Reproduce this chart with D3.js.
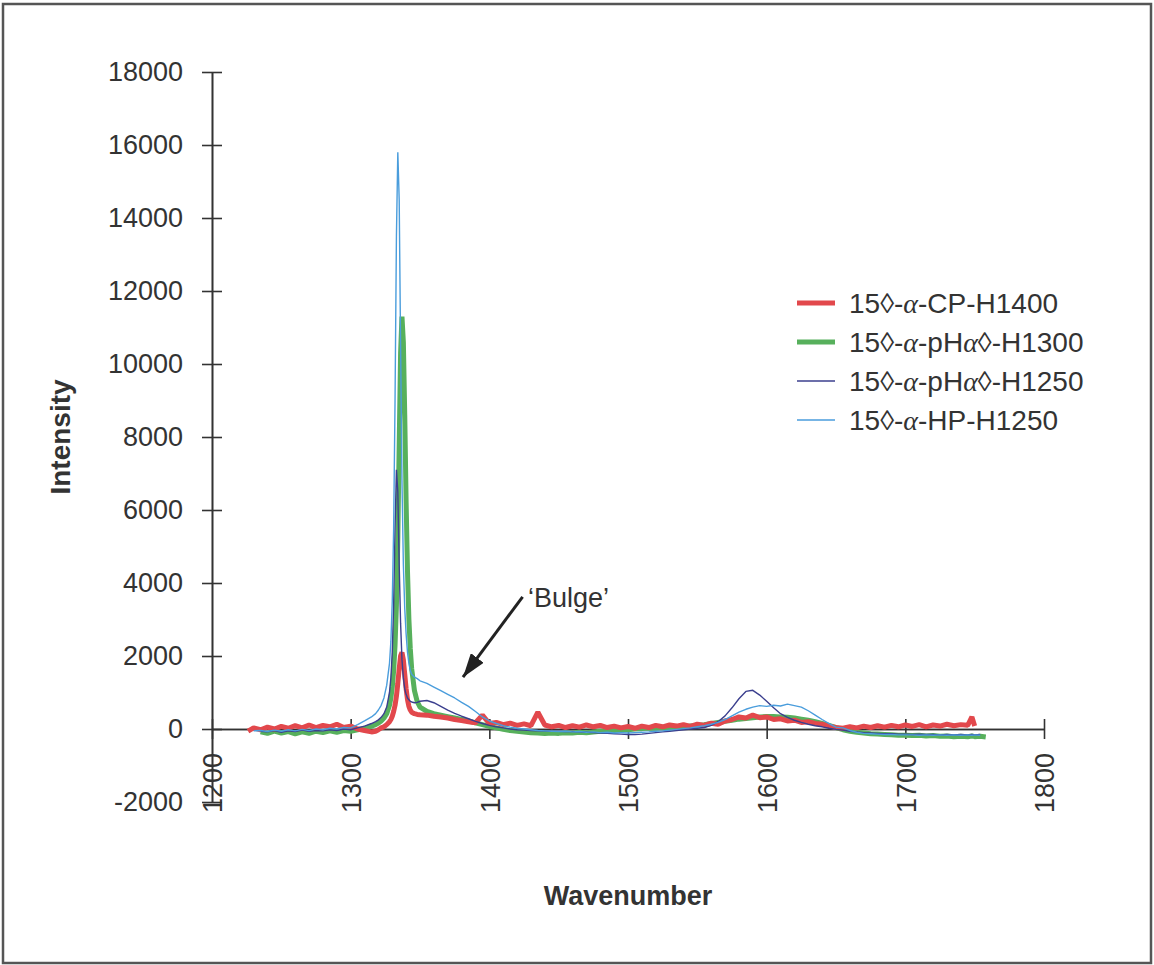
<!DOCTYPE html>
<html>
<head>
<meta charset="utf-8">
<script src="https://cdn.jsdelivr.net/npm/d3@7"></script>
<style>
  body { margin: 0; background: #fff; }
  svg { display: block; font-family: "Liberation Sans", Arial, sans-serif; }
</style>
</head>
<body>
<svg id="chart" width="1154" height="965"></svg>
<script>
// Wavenumber sampling grid shared by all four spectra
const wavenumbers = [
  1226, 1230, 1235, 1240, 1245, 1250, 1255, 1260, 1265, 1270, 1275, 1280, 1285, 1290, 1295, 1300, 1305, 1310, 1315,
  1318, 1320, 1322, 1324, 1326, 1328, 1329, 1330, 1331, 1332, 1333, 1334, 1335, 1336, 1337, 1338, 1339, 1340, 1341, 1342, 1343, 1344, 1346, 1348, 1350,
  1355, 1360, 1365, 1370, 1375, 1380, 1385, 1390, 1395, 1400,
  1405, 1410, 1415, 1420, 1425, 1430, 1435, 1440, 1445, 1450,
  1455, 1460, 1465, 1470, 1475, 1480, 1485, 1490, 1495, 1500,
  1505, 1510, 1515, 1520, 1525, 1530, 1535, 1540, 1545, 1550,
  1555, 1560, 1565, 1570, 1575, 1580, 1585, 1590, 1595, 1600,
  1605, 1610, 1615, 1620, 1625, 1630, 1635, 1640, 1645, 1650,
  1655, 1660, 1665, 1670, 1675, 1680, 1685, 1690, 1695, 1700,
  1705, 1710, 1715, 1720, 1725, 1730, 1735, 1740, 1745,
  1748, 1750, 1754, 1758
];

// legend names are split round the alpha so it can be set in a serif italic
const seriesNames = [
  ["15\u25CA-", "-CP-H1400"],
  ["15\u25CA-", "-pH", "\u25CA-H1300"],
  ["15\u25CA-", "-pH", "\u25CA-H1250"],
  ["15\u25CA-", "-HP-H1250"]
];

const cpH1400 = [
  -60, 30, -20, 50, 0, 70, 20, 90, 30, 110, 40, 100, 60, 130, 40, 80, 0, -40, -80,
  -60, -20, 30, 60, 120, 200, 260, 350, 480, 650, 900, 1250, 1650, 2000, 2100, 1900, 1500, 1100, 800, 620, 520, 460, 420, 400, 390,
  380, 350, 330, 300, 260, 230, 200, 170, 380, 150,
  180, 120, 160, 100, 140, 90, 460, 110, 60, 100,
  40, 90, 50, 110, 60, 100, 40, 80, 30, 70,
  20, 80, 40, 100, 60, 110, 80, 120, 70, 130,
  100, 160, 130, 220, 260, 330, 300, 380, 310, 330,
  260, 280, 220, 240, 180, 200, 150, 130, 80, 40,
  20, 60, 30, 80, 40, 90, 50, 100, 60, 110,
  70, 120, 60, 110, 80, 130, 90, 120, 100,
  330, 80, null, null
];

const phaH1300 = [
  null, null, -80, -120, -60, -110, -70, -130, -80, -120, -60, -100, -50, -90, -40, -60, -20, 20, 80,
  120, 160, 220, 300, 420, 650, 850, 1150, 1600, 2300, 3400, 5200, 7800, 10300, 11300, 10600, 8600, 6200, 4300, 3000, 2200, 1650, 1050, 750, 600,
  480, 420, 380, 340, 300, 260, 220, 170, 120, 70,
  30, -10, -40, -60, -80, -100, -110, -120, -110, -120,
  -100, -110, -90, -100, -80, -60, -70, -40, -30, -20,
  0, 10, 30, 20, 40, 30, 50, 60, 80, 100,
  120, 150, 180, 210, 240, 270, 290, 310, 330, 340,
  340, 330, 320, 300, 270, 240, 200, 150, 100, 40,
  -20, -60, -90, -110, -130, -140, -150, -160, -170, -170,
  -180, -170, -190, -180, -200, -190, -210, -200, -210,
  -190, -210, -200, -220
];

const phaH1250 = [
  null, null, -60, -80, -40, -90, -50, -70, -30, -60, -40, -50, -20, -40, 0, -20, 30, 80, 150,
  200, 250, 320, 420, 600, 1000, 1400, 2100, 3400, 5500, 7100, 6500, 4500, 2900, 1900, 1400, 1100, 950, 850, 800, 760, 740, 720, 730, 760,
  780, 720, 620, 520, 430, 350, 280, 210, 150, 100,
  60, 30, 0, -20, -30, -40, -50, -50, -60, -60,
  -70, -70, -80, -90, -100, -110, -120, -130, -140, -150,
  -150, -140, -120, -100, -80, -60, -40, -20, 0, 20,
  40, 100, 200, 360, 580, 830, 1030, 1060, 930, 760,
  580, 420, 320, 240, 180, 130, 90, 60, 20, -10,
  -30, -60, -80, -100, -110, -120, -130, -130, -140, -140,
  -150, -140, -150, -150, -160, -150, -160, -150, -160,
  -150, -160, -150, null
];

const hpH1250 = [
  null, -50, -40, -70, -30, -60, -20, -50, -10, -40, 0, -20, 20, 0, 40, 30, 120, 220, 330,
  420, 520, 650, 850, 1200, 1800, 2400, 3500, 5500, 9000, 13500, 15800, 14500, 10500, 6800, 4500, 3300, 2600, 2100, 1800, 1600, 1500, 1420, 1380, 1320,
  1250, 1150, 1050, 950, 850, 730, 620, 480, 330, 220,
  150, 90, 50, 20, 0, -20, -40, -50, -60, -70,
  -60, -80, -70, -90, -80, -100, -90, -110, -100, -110,
  -100, -90, -80, -60, -50, -30, -10, 10, 30, 60,
  90, 130, 180, 260, 360, 460, 540, 600, 640, 620,
  650, 630, 680, 640, 600, 500, 380, 260, 150, 50,
  30, -40, -90, -120, -130, -140, -150, -150, -160, -160,
  -160, -170, -160, -170, -160, -170, -160, -170, -160,
  -170, -160, -170, null
];

const xTicks = [1200, 1300, 1400, 1500, 1600, 1700, 1800];
const yTicks = [-2000, 0, 2000, 4000, 6000, 8000, 10000, 12000, 14000, 16000, 18000];

const seriesStyle = [
  { values: cpH1400, color: "#e2484c", width: 5 },
  { values: phaH1300, color: "#57b05c", width: 5 },
  { values: phaH1250, color: "#3b3f8e", width: 1.4 },
  { values: hpH1250, color: "#4a9ddc", width: 1.4 }
];

const svg = d3.select("#chart");
const ink = "#333";

// frame around the whole figure
svg.append("rect")
  .attr("x", 3).attr("y", 4)
  .attr("width", 1148).attr("height", 959)
  .attr("fill", "none")
  .attr("stroke", "#555")
  .attr("stroke-width", 2.5);

const x = d3.scaleLinear().domain([1200, 1800]).range([212, 1044]);
const y = d3.scaleLinear().domain([-2000, 18000]).range([802, 72]);

const plain = d => String(d); // "-2000", no thousands comma

// Y axis with crossing ticks
const yAxis = svg.append("g")
  .attr("transform", `translate(${x(1200)},0)`)
  .call(d3.axisLeft(y).tickValues(yTicks).tickFormat(plain).tickSize(10).tickSizeOuter(0).tickPadding(19));
svg.append("g")
  .attr("transform", `translate(${x(1200)},0)`)
  .call(d3.axisRight(y).tickValues(yTicks).tickSize(10).tickSizeOuter(0).tickFormat(""));

// X axis sits on zero
const xAxis = svg.append("g")
  .attr("transform", `translate(0,${y(0)})`)
  .call(d3.axisBottom(x).tickValues(xTicks).tickFormat(plain).tickSize(10).tickSizeOuter(0));
svg.append("g")
  .attr("transform", `translate(0,${y(0)})`)
  .call(d3.axisTop(x).tickValues(xTicks).tickSize(10).tickSizeOuter(0).tickFormat(""));

svg.selectAll(".domain, .tick line")
  .attr("stroke", ink)
  .attr("stroke-width", 1.6);

yAxis.selectAll("text")
  .attr("fill", ink)
  .style("font-size", "27px");

xAxis.selectAll("text")
  .attr("fill", ink)
  .style("font-size", "27px")
  .attr("text-anchor", "end")
  .attr("transform", "rotate(-90)")
  .attr("x", -(y(-2000) - y(0)) + 49)
  .attr("y", 0)
  .attr("dy", "0.36em");

// spectra
const line = d3.line()
  .defined(d => d[1] !== null)
  .x(d => x(d[0]))
  .y(d => y(d[1]));

const drawOrder = [1, 0, 2, 3];
drawOrder.forEach(i => {
  const s = seriesStyle[i];
  svg.append("path")
    .datum(wavenumbers.map((w, k) => [w, s.values[k]]))
    .attr("fill", "none")
    .attr("stroke", s.color)
    .attr("stroke-width", s.width)
    .attr("stroke-linejoin", "bevel")
    .attr("d", line);
});

// legend
const legend = svg.append("g").attr("transform", "translate(797,303)");
seriesNames.forEach((parts, i) => {
  const row = legend.append("g").attr("transform", `translate(0,${i * 39})`);
  row.append("line")
    .attr("x1", 0).attr("x2", 38)
    .attr("stroke", seriesStyle[i].color)
    .attr("stroke-width", seriesStyle[i].width);
  const label = row.append("text")
    .attr("x", 52)
    .attr("dy", "0.36em")
    .attr("fill", ink)
    .style("font-size", "28px");
  parts.forEach((p, j) => {
    if (j > 0) {
      label.append("tspan")
        .style("font-family", "'Liberation Serif', serif")
        .style("font-style", "italic")
        .text("\u03B1");
    }
    label.append("tspan").text(p);
  });
});

// 'Bulge' annotation
svg.append("defs").append("marker")
  .attr("id", "head")
  .attr("markerUnits", "userSpaceOnUse")
  .attr("viewBox", "0 0 24 16")
  .attr("refX", 24).attr("refY", 8)
  .attr("markerWidth", 24).attr("markerHeight", 16)
  .attr("orient", "auto")
  .append("path")
  .attr("d", "M0,0 L24,8 L0,16 Z")
  .attr("fill", "#222");

svg.append("line")
  .attr("x1", x(1424)).attr("y1", y(3620))
  .attr("x2", x(1381)).attr("y2", y(1420))
  .attr("stroke", "#222")
  .attr("stroke-width", 3)
  .attr("marker-end", "url(#head)");

svg.append("text")
  .attr("x", 528).attr("y", 607)
  .attr("fill", ink)
  .style("font-size", "27px")
  .text("\u2018Bulge\u2019");

// axis titles
svg.append("text")
  .attr("transform", `translate(70,${(y(18000) + y(-2000)) / 2}) rotate(-90)`)
  .attr("text-anchor", "middle")
  .attr("fill", ink)
  .style("font-size", "28px")
  .style("font-weight", "bold")
  .text("Intensity");

svg.append("text")
  .attr("x", (x(1200) + x(1800)) / 2)
  .attr("y", 905)
  .attr("text-anchor", "middle")
  .attr("fill", ink)
  .style("font-size", "27px")
  .style("font-weight", "bold")
  .text("Wavenumber");
</script>
</body>
</html>
